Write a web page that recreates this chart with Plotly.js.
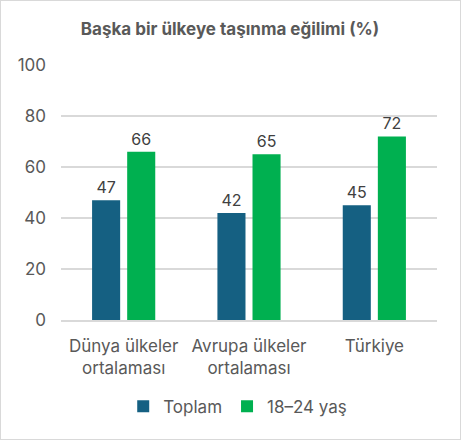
<!DOCTYPE html>
<html><head><meta charset="utf-8">
<script src="https://cdn.plot.ly/plotly-3.0.1.min.js"></script>
<style>html,body{margin:0;padding:0;background:#fff}#c{width:461px;height:440px;box-sizing:border-box;border:1.5px solid #d9d9d9}</style>
</head><body><div id="c"></div>
<script>
const categories = ["Dünya ülkeler<br>ortalaması", "Avrupa ülkeler<br>ortalaması", "Türkiye"];
const toplam = [47, 42, 45];
const genc = [66, 65, 72];
const seriesNames = ["Toplam", "18–24 yaş"];
const yTicks = [0, 20, 40, 60, 80, 100];
const F = "Inter, 'Noto Sans', sans-serif";
const traces = [
  {type:"bar", name:seriesNames[0], x:categories, y:toplam, marker:{color:"#156082"},
   text:toplam.map(String), textposition:"outside", textfont:{size:16,color:"#404040",family:F}, cliponaxis:false},
  {type:"bar", name:seriesNames[1], x:categories, y:genc, marker:{color:"#00B050"},
   text:genc.map(String), textposition:"outside", textfont:{size:16,color:"#404040",family:F}, cliponaxis:false}
];
const layout = {
  width:458, height:437,
  margin:{l:60, r:22, t:64, b:118},
  paper_bgcolor:"#fff", plot_bgcolor:"#fff",
  font:{family:F, color:"#595959"},
  title:{text:"<b>Başka bir ülkeye taşınma eğilimi (%)</b>", font:{size:17,color:"#595959",family:F}, x:0.5, xanchor:"center", y:0.935, yanchor:"middle"},
  barmode:"group", bargap:0.44, bargroupgap:0.2,
  xaxis:{tickfont:{size:17,color:"#595959",family:F}, showline:true, linecolor:"#d9d9d9", linewidth:1.5, ticks:"", automargin:false, ticklabelstandoff:10},
  yaxis:{range:[0,100], tickvals:yTicks, showgrid:true, gridcolor:"#d9d9d9", gridwidth:1.5, zeroline:false, tickfont:{size:17,color:"#595959",family:F}, ticks:"", ticklen:0, automargin:false, ticklabelstandoff:14},
  legend:{orientation:"h", x:0.47, xanchor:"center", y:-0.34, yanchor:"middle", font:{size:17,color:"#595959",family:F}, itemwidth:30, traceorder:"normal"},
  showlegend:true
};
Plotly.newPlot("c", traces, layout, {displayModeBar:false, staticPlot:true});
</script></body></html>
